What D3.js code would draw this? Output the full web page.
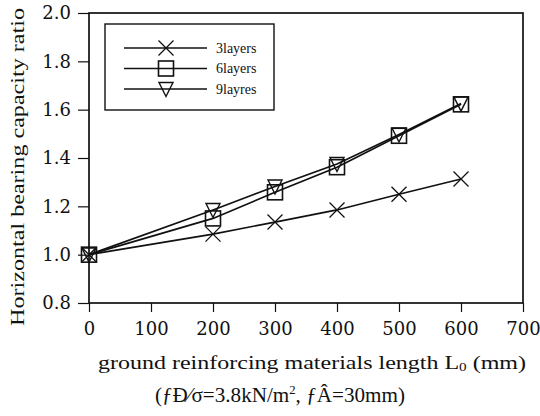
<!DOCTYPE html>
<html>
<head>
<meta charset="utf-8">
<script src="https://cdn.jsdelivr.net/npm/d3@7"></script>
<style>
  body { margin: 0; background: #fff; }
  text { fill: #111; }
</style>
</head>
<body>
<div id="chart"></div>
<script>
const lengths = [0, 200, 300, 400, 500, 600];
const layers3 = [1.0, 1.085, 1.135, 1.185, 1.25, 1.313];
const layers6 = [1.0, 1.15, 1.258, 1.362, 1.492, 1.622];
const layers9 = [1.0, 1.185, 1.282, 1.375, 1.497, 1.625];
const seriesNames = ["3layers", "6layers", "9layres"];
const xTicks = [0, 100, 200, 300, 400, 500, 600, 700];
const yTicks = [0.8, 1.0, 1.2, 1.4, 1.6, 1.8, 2.0];

(function () {
  const width = 540, height = 416;
  const left = 89, right = 523, top = 13, bottom = 303;
  const serif = "'DejaVu Serif', serif";
  const times = "'Liberation Serif', serif";

  const svg = d3.select("#chart").append("svg")
    .attr("width", width).attr("height", height);

  const x = d3.scaleLinear().domain([0, 700]).range([left, right]);
  const y = d3.scaleLinear().domain([0.8, 2.0]).range([bottom, top]);

  // frame
  svg.append("rect")
    .attr("x", left).attr("y", top)
    .attr("width", right - left).attr("height", bottom - top)
    .attr("fill", "none").attr("stroke", "#111").attr("stroke-width", 1.7);

  const xAxis = svg.append("g")
    .attr("transform", `translate(0,${bottom})`)
    .call(d3.axisBottom(x).tickValues(xTicks).tickSize(9).tickPadding(10).tickFormat(d3.format("d")));
  xAxis.select(".domain").remove();
  xAxis.selectAll("line").attr("stroke", "#111").attr("stroke-width", 1.2);
  xAxis.selectAll("text").attr("font-size", 18).attr("font-family", serif).attr("fill", "#111");

  const yAxis = svg.append("g")
    .attr("transform", `translate(${left},0)`)
    .call(d3.axisLeft(y).tickValues(yTicks).tickSize(11).tickPadding(7).tickFormat(d3.format(".1f")));
  yAxis.select(".domain").remove();
  yAxis.selectAll("line").attr("stroke", "#111").attr("stroke-width", 1.2);
  yAxis.selectAll("text").attr("font-size", 18).attr("font-family", serif).attr("fill", "#111");

  // axis titles
  svg.append("text")
    .attr("transform", `translate(24,${(top + bottom) / 2 + 9}) rotate(-90)`)
    .attr("text-anchor", "middle")
    .attr("font-family", times)
    .attr("font-size", 19)
    .attr("textLength", 318).attr("lengthAdjust", "spacingAndGlyphs")
    .text("Horizontal bearing capacity ratio");

  const xt = svg.append("text")
    .attr("x", 98).attr("y", 369)
    .attr("font-family", times)
    .attr("font-size", 19)
    .attr("textLength", 428).attr("lengthAdjust", "spacingAndGlyphs");
  xt.append("tspan").text("ground reinforcing materials length  L");
  xt.append("tspan").attr("font-size", 12).attr("dy", 2).text("0");
  xt.append("tspan").attr("dy", -2).text(" (mm)");

  const st = svg.append("text")
    .attr("x", 155).attr("y", 402)
    .attr("font-family", times)
    .attr("font-size", 20)
    .attr("textLength", 250).attr("lengthAdjust", "spacingAndGlyphs");
  st.append("tspan").text("(ƒÐ\u2044σ=3.8kN/m");
  st.append("tspan").attr("font-size", 12).attr("dy", -8).text("2");
  st.append("tspan").attr("dy", 8).text(", ƒÂ=30mm)");

  const all = [layers3, layers6, layers9];
  const line = d3.line().x((d, i) => x(lengths[i])).y(d => y(d));

  const marker = (g, k) => {
    if (k === 0) {
      g.append("path").attr("d", "M-7.5,-7.5L7.5,7.5M-7.5,7.5L7.5,-7.5")
        .attr("stroke", "#111").attr("stroke-width", 1.3).attr("fill", "none");
    } else if (k === 1) {
      g.append("rect").attr("x", -7.5).attr("y", -7.5).attr("width", 15).attr("height", 15)
        .attr("fill", "none").attr("stroke", "#111").attr("stroke-width", 1.6);
    } else {
      g.append("path").attr("d", "M-7,-6.5L7,-6.5L0,7.5Z")
        .attr("fill", "none").attr("stroke", "#111").attr("stroke-width", 1.4);
    }
  };

  all.forEach((vals, k) => {
    svg.append("path").datum(vals)
      .attr("d", line)
      .attr("fill", "none").attr("stroke", "#111").attr("stroke-width", 1.7);
    vals.forEach((v, i) => {
      const g = svg.append("g").attr("transform", `translate(${x(lengths[i])},${y(v)})`);
      marker(g, k);
    });
  });

  // legend
  const lg = svg.append("g");
  lg.append("rect").attr("x", 105).attr("y", 24).attr("width", 169).attr("height", 86)
    .attr("fill", "#fff").attr("stroke", "#111").attr("stroke-width", 1.4);
  seriesNames.forEach((name, k) => {
    const ly = 48 + k * 20.5;
    lg.append("line").attr("x1", 124).attr("x2", 207).attr("y1", ly).attr("y2", ly)
      .attr("stroke", "#111").attr("stroke-width", 1.6);
    const g = lg.append("g").attr("transform", `translate(166,${ly})`);
    marker(g, k);
    lg.append("text").attr("x", 216).attr("y", ly + 4.5)
      .attr("font-family", times)
      .attr("font-size", 14).text(name);
  });
})();
</script>
</body>
</html>
